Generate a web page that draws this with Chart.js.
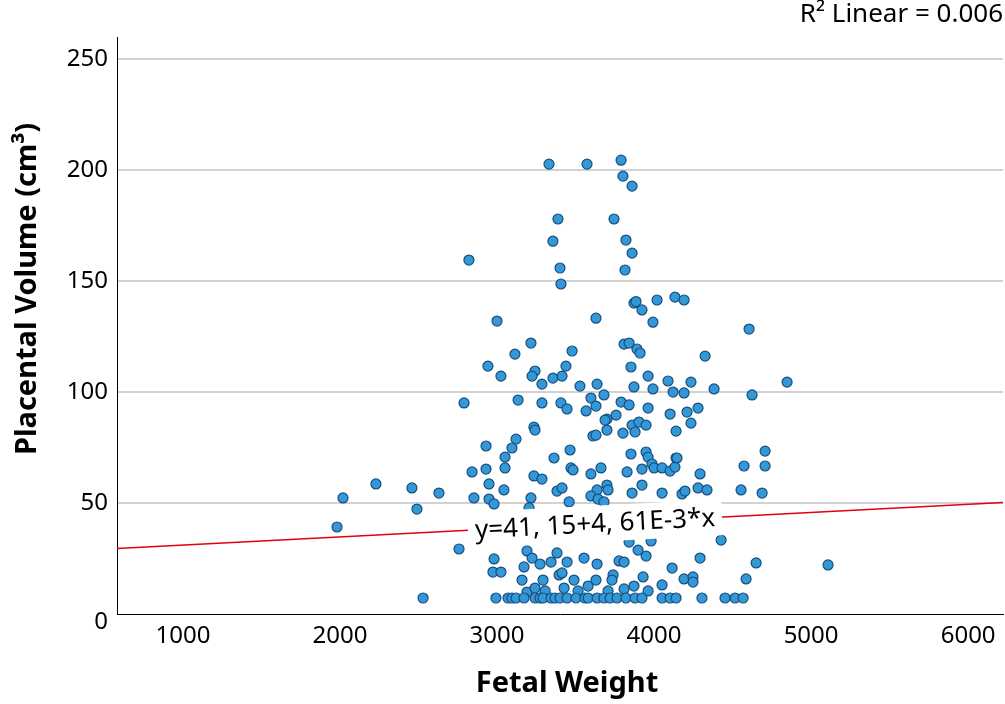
<!DOCTYPE html>
<html>
<head>
<meta charset="utf-8">
<script src="https://cdn.jsdelivr.net/npm/chart.js@4.4.1/dist/chart.umd.min.js"></script>
<style>
    body { margin: 0; background: #fff; }
    #chart-container { width: 1005px; height: 704px; }
</style>
</head>
<body>
<div id="chart-container"><canvas id="chart" width="1005" height="704"></canvas></div>
<script>
// Fetal weight (x) and placental volume (y)
const fetalWeight = [
    2019, 2229, 2458, 2630, 2490, 1981, 2758, 2529, 2790,
    3331, 3388, 3356, 2821, 3401, 3407, 3573, 3790, 3802, 3860, 3745, 3821, 3860, 3815, 3872, 3885, 4019, 3923, 4133, 4191,
    3000, 3216, 3114, 2942, 3025, 3242, 3223, 3286, 3356, 3414, 3134, 3286, 3407, 3235, 3242, 2930, 3121, 3095, 3051, 3363,
    3993, 3630, 3478, 3809, 3841, 3891, 3911, 3439, 3853, 3962, 3528, 3637, 3872, 3993, 3681, 3598, 3446, 3630, 3567, 3790,
    3841, 3962, 3758, 3700, 3688, 3700, 3860, 3904, 3949, 3879, 3802, 3611, 3630, 3465, 3853, 3949, 3962,
    4605, 4325, 4089, 4235, 4121, 4191, 4382, 4624, 4102, 4210, 4280, 4235, 4140, 4140,
    2841, 2930, 3051, 2949, 3044, 3235, 3286, 2853, 2949, 2981, 3216, 3382, 3204, 2981, 2974, 3025, 3172, 3191, 3223, 3274,
    3344, 3382, 3159, 3293, 3191, 3242, 3306, 3395,
    2993, 3070, 3095, 3121, 3172, 3242, 3274, 3293, 3344,
    3471, 3484, 3598, 3662, 3828, 3923, 3987, 4000, 3414, 3459, 3637, 3700, 3707, 3598, 3643, 3681, 3860, 3923, 3841, 3981,
    3898, 3949, 3446, 3554, 3637, 3777, 3809, 3414, 3739, 3490, 3630, 3732, 3930, 3427, 3516, 3580, 3707, 3809, 3872, 3962,
    3369, 3401, 3446, 3503, 3560, 3580, 3637, 3681, 3720, 3764, 3821, 3879, 3923,
    4051, 4102, 4133, 4146, 4293, 4573, 4051, 4178, 4197, 4280, 4337, 4554, 4427, 4293, 4115, 4650, 4586, 4051, 4191, 4248, 4248,
    4051, 4102, 4140, 4305, 4452, 4516, 4567,
    4847, 4707, 4707, 4688, 5108
];
const placentalVolume = [
    52.3, 58.6, 56.8, 54.5, 47.3, 39.2, 29.3, 7.2, 95.1,
    202.7, 178, 168, 159.5, 155.9, 148.7, 202.7, 204.5, 197.3, 192.8, 178, 168.5, 162.6, 155, 140.1, 140.8, 141.5, 137, 142.8, 141.5,
    132, 122.1, 117.1, 111.7, 107.2, 109.5, 107.2, 103.6, 106.3, 107.2, 96.4, 95.1, 95.1, 84.2, 82.9, 75.7, 78.8, 74.8, 70.7, 70.3,
    131.5, 133.3, 118.5, 121.6, 122.1, 119.4, 117.6, 111.7, 111.3, 107.2, 102.7, 103.6, 102.3, 101.4, 98.7, 97.3, 92.4, 93.7, 91.5, 95.5,
    94.2, 92.8, 89.6, 87.8, 87.4, 82.9, 85.1, 86.5, 85.1, 82, 81.5, 80.2, 80.6, 73.9, 72.1, 73, 70.7,
    128.4, 116.2, 105, 104.5, 100, 99.6, 101.4, 98.7, 90.1, 91, 92.8, 86, 82.4, 70.3,
    64, 65.3, 65.8, 58.6, 55.9, 62.2, 60.8, 52.3, 51.8, 49.6, 52.3, 55.4, 47.8, 24.8, 18.9, 18.9, 21.2, 28.4, 25.2, 22.5,
    23.4, 27.5, 15.3, 15.3, 9.9, 11.7, 10.4, 17.6,
    7.2, 7.2, 7.2, 7.2, 7.2, 7.2, 7.2, 7.2, 7.2,
    65.8, 64.9, 63.1, 65.8, 64, 65.3, 67.6, 65.8, 56.8, 50.5, 55.9, 58.1, 55.9, 53.2, 51.8, 50.5, 54.5, 58.1, 32.4, 32.9,
    28.8, 26.1, 23.4, 25.2, 22.5, 23.9, 23.4, 18.5, 17.6, 15.3, 15.3, 15.3, 16.7, 11.7, 10.4, 12.6, 10.4, 11.3, 12.6, 10.4,
    7.2, 7.2, 7.2, 7.2, 7.2, 7.2, 7.2, 7.2, 7.2, 7.2, 7.2, 7.2, 7.2,
    65.8, 64.4, 66.2, 70.3, 63.1, 66.7, 54.5, 54.1, 55.4, 56.8, 55.9, 55.9, 33.3, 25.2, 20.7, 23, 15.8, 13.1, 15.8, 16.7, 14.4,
    7.2, 7.2, 7.2, 7.2, 7.2, 7.2, 7.2,
    104.5, 73.4, 66.7, 54.5, 22.1
];

// Fit line as drawn (end points at the plot edges)
const fitX = [580, 6222];
const fitY = [29.5, 50.2];
const fitLabel = 'y=41, 15+4, 61E-3*x';
const fitLabelAt = 3624;
const rSquaredText = 'R\u00b2 Linear = 0.006';

const xTicks = [1000, 2000, 3000, 4000, 5000, 6000];
const yTicks = [0, 50, 100, 150, 200, 250];
const xTitle = 'Fetal Weight';
const yTitle = 'Placental Volume (cm\u00b3)';

const fontFamily = '"Noto Sans", "DejaVu Sans", sans-serif';

// Function to give the y of the fit line for a given x
function fitValue(x) {
    const slope = (fitY[1] - fitY[0]) / (fitX[1] - fitX[0]);
    return fitY[0] + slope * (x - fitX[0]);
}

// Plugin to draw the titles, the fit label box and the R squared text
const annotations = {
    id: 'annotations',
    afterDatasetsDraw(chart) {
        const ctx = chart.ctx;
        const xs = chart.scales.x;
        const ys = chart.scales.y;

        const px = xs.getPixelForValue(fitLabelAt);
        const py = ys.getPixelForValue(fitValue(fitLabelAt));
        const angle = Math.atan2(
            ys.getPixelForValue(fitY[1]) - ys.getPixelForValue(fitY[0]),
            xs.getPixelForValue(fitX[1]) - xs.getPixelForValue(fitX[0])
        );

        ctx.save();
        ctx.translate(px, py);
        ctx.rotate(angle);
        ctx.font = '26px ' + fontFamily;
        const w = ctx.measureText(fitLabel).width + 14;
        const h = 36;
        ctx.fillStyle = '#ffffff';
        ctx.fillRect(-w / 2, -h / 2, w, h);
        ctx.fillStyle = '#000000';
        ctx.textAlign = 'center';
        ctx.textBaseline = 'middle';
        ctx.fillText(fitLabel, 0, 1);
        ctx.restore();

        ctx.save();
        ctx.fillStyle = '#000000';
        ctx.textBaseline = 'middle';

        ctx.font = '26px ' + fontFamily;
        ctx.textAlign = 'right';
        ctx.fillText(rSquaredText, 1003, 15);

        // the zero label sits a bit lower than the axis line
        ctx.font = '24px ' + fontFamily;
        ctx.fillText('0', ys.right - 9, ys.getPixelForValue(0) + 8);

        ctx.font = 'bold 29px ' + fontFamily;
        ctx.textAlign = 'center';
        ctx.fillText(xTitle, 567, 684);

        ctx.translate(28, 289);
        ctx.rotate(-Math.PI / 2);
        ctx.fillText(yTitle, 0, 0);
        ctx.restore();
    }
};

const points = fetalWeight.map((w, i) => ({ x: w, y: placentalVolume[i] }));
const fitLine = fitX.map((x, i) => ({ x: x, y: fitY[i] }));

const ctx = document.getElementById('chart').getContext('2d');
const chart = new Chart(ctx, {
    type: 'scatter',
    data: {
        datasets: [{
            label: 'Placental Volume',
            data: points,
            backgroundColor: 'rgb(52, 152, 214)',
            borderColor: 'rgb(22, 78, 128)',
            borderWidth: 1.2,
            pointRadius: 5,
            order: 2
        },
        {
            type: 'line',
            label: 'Fit',
            data: fitLine,
            borderColor: 'rgb(228, 0, 12)',
            borderWidth: 1.5,
            pointRadius: 0,
            fill: false,
            order: 1
        }]
    },
    plugins: [annotations],
    options: {
        responsive: false,
        animation: false,
        layout: { autoPadding: false, padding: { top: 37, right: 2, left: 0, bottom: 0 } },
        plugins: {
            legend: { display: false },
            tooltip: { enabled: false }
        },
        scales: {
            x: {
                type: 'linear',
                min: fitX[0],
                max: fitX[1],
                afterFit: scale => {
                    scale.height = 90;
                    scale.paddingRight = 0;
                },
                afterBuildTicks: scale => { scale.ticks = xTicks.map(v => ({ value: v })); },
                grid: { display: false, drawTicks: false },
                border: { display: true, color: '#000000', width: 1 },
                ticks: {
                    color: '#000000',
                    font: { family: fontFamily, size: 24 },
                    padding: 8,
                    callback: v => String(v)
                },
                title: { display: false }
            },
            y: {
                type: 'linear',
                min: 0,
                max: 260,
                afterFit: scale => { scale.width = 117; },
                afterBuildTicks: scale => { scale.ticks = yTicks.map(v => ({ value: v })); },
                grid: {
                    drawTicks: false,
                    color: c => c.tick && c.tick.value === 0 ? 'rgba(0,0,0,0)' : '#d2d2d2',
                    lineWidth: 2
                },
                border: { display: true, color: '#000000', width: 1 },
                ticks: {
                    color: '#000000',
                    font: { family: fontFamily, size: 24 },
                    padding: 9,
                    callback: v => v === 0 ? '' : String(v)
                },
                title: { display: false }
            }
        }
    }
});
</script>
</body>
</html>
